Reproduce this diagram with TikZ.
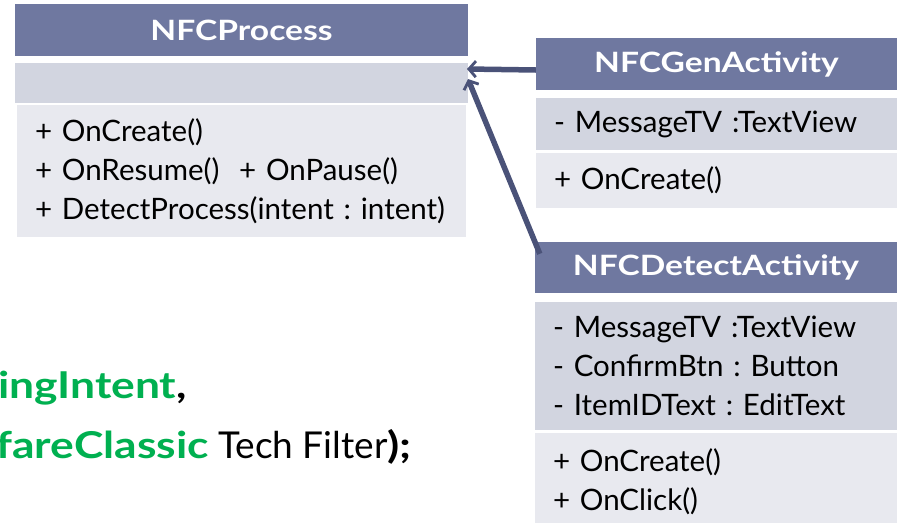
\documentclass[tikz,border=0pt]{standalone}
\usepackage{fontspec}
\setmainfont{Lato}
\newfontfamily\wideboldfont{Lato}[FakeStretch=1.2]
\usetikzlibrary{arrows.meta}

\definecolor{headc}{HTML}{6F78A0}
\definecolor{attrc}{HTML}{D2D5E0}
\definecolor{opsc}{HTML}{E8E9EF}
\definecolor{arrowc}{HTML}{4A5278}
\definecolor{codegreen}{HTML}{00B050}

\tikzset{
  headbox/.style={fill=headc, text=white, inner sep=0pt,
    font=\wideboldfont\bfseries\fontsize{28}{32}\selectfont},
  attrbox/.style={fill=attrc, inner xsep=18pt, inner ysep=0pt, align=left,
    font=\fontsize{29.5}{39}\selectfont},
  opsbox/.style={fill=opsc, inner xsep=18pt, inner ysep=0pt, align=left,
    font=\fontsize{29.5}{39}\selectfont},
  inherit/.style={draw=arrowc, line width=5.5pt,
    -{Straight Barb[length=7pt,width=16pt,line width=2.8pt]}},
  snip/.style={inner sep=0pt, font=\fontsize{37}{42}\selectfont}
}

\begin{document}
\frenchspacing
\begin{tikzpicture}[x=1pt,y=-1pt]
    \useasboundingbox (0,0) rectangle (901,522);

    % NFCProcess
    \node[headbox, minimum width=453pt, minimum height=52pt] (procHead) at (241.5,30) {NFCProcess};
    \node[attrbox, minimum width=453pt, minimum height=40pt] (procAttr) at (241.5,83) {};
    \node[opsbox, text width=413pt, minimum height=132pt] (procOps) at (241.5,171)
      {+ OnCreate()\\+ OnResume()~~+ OnPause()\\+ DetectProcess(intent : intent)};

    % NFCGenActivity
    \node[headbox, minimum width=361pt, minimum height=52pt] (genHead) at (716.5,64) {NFCGenActivity};
    \node[attrbox, text width=325pt, minimum height=52pt] (genAttr) at (716.5,124)
      {- MessageTV :TextView};
    \node[opsbox, text width=325pt, minimum height=55pt] (genOps) at (716.5,180.5)
      {+ OnCreate()};

    % NFCDetectActivity
    \node[headbox, minimum width=362pt, minimum height=51pt] (detHead) at (716,267.5) {NFCDetectActivity};
    \node[attrbox, text width=326pt, minimum height=128pt] (detAttr) at (716,366)
      {- MessageTV :TextView\\- ConfirmBtn : Button\\- ItemIDText : EditText};
    \node[opsbox, text width=326pt, minimum height=97pt] (detOps) at (716,481.5)
      {+ OnCreate()\\+ OnClick()};

    % inheritance arrows
    \coordinate (genTip) at (467,69);
    \coordinate (detTip) at (468,79);
    \draw[inherit] ([yshift=-6pt]genHead.west) -- (genTip);
    \draw[inherit] ([xshift=5pt,yshift=-12pt]detHead.north west) -- (detTip);

    % code fragment, cut at the left edge
    \node[snip, anchor=base west] (snipA) at (-2,398)
      {{\wideboldfont\bfseries\color{codegreen}ingIntent}{\wideboldfont\bfseries,}};
    \node[snip, anchor=base west] (snipB) at (-4,458)
      {{\wideboldfont\bfseries\color{codegreen}fareClassic} Tech Filter{\wideboldfont\bfseries);}};
\end{tikzpicture}
\end{document}
